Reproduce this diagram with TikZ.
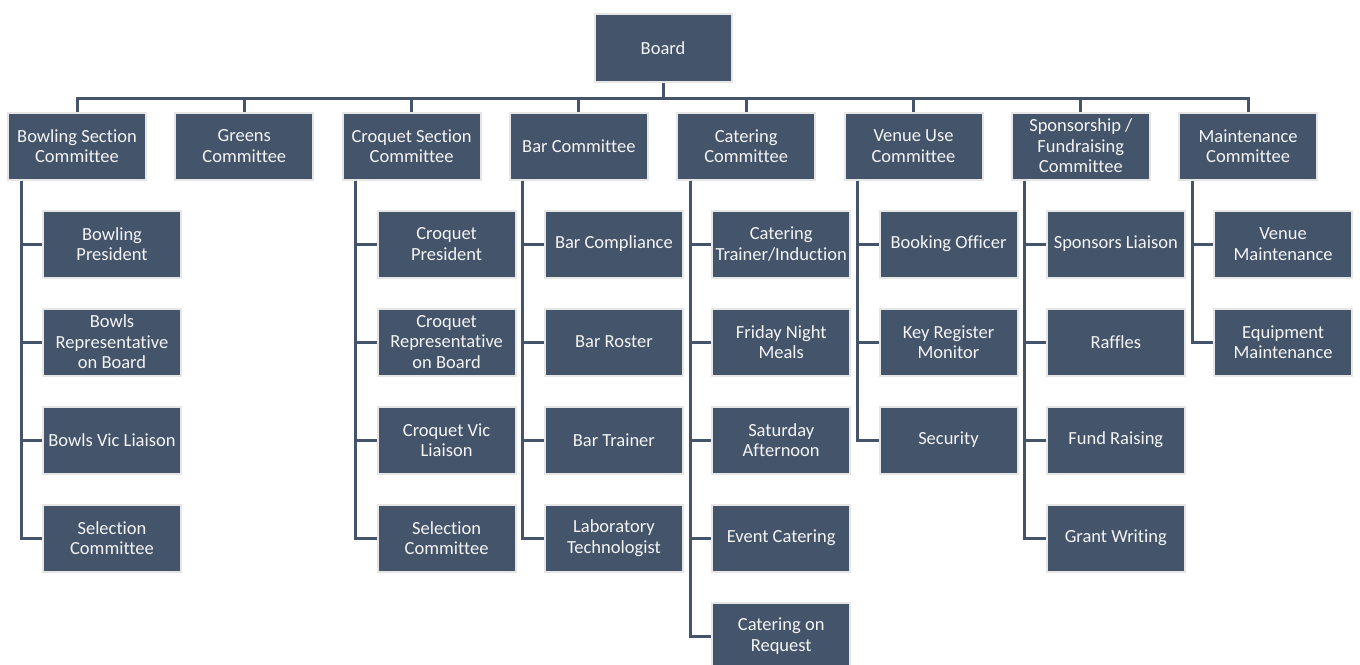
\documentclass[tikz,border=0pt]{standalone}
\usepackage{fontspec}
\setmainfont{Carlito}[Ligatures=NoCommon]
\usepackage{tikz}
\definecolor{boxblue}{HTML}{44546A}
\definecolor{boxedge}{HTML}{E7E6E6}
\definecolor{boxtext}{HTML}{F4F4F4}

\begin{document}
\begin{tikzpicture}[x=1pt, y=-1pt,
    unit/.style={draw=boxedge, line width=2pt, fill=boxblue, text=boxtext,
        minimum width=138pt, minimum height=67pt, inner sep=0pt, align=center,
        font=\fontsize{18.5}{20.5}\selectfont},
    conn/.style={draw=boxblue, line width=3pt}]
    \clip (0,0) rectangle (1360,664);

    % Boxes
    \node [unit, minimum width=137pt, minimum height=68pt] (board) at (663,48) {Board};

    \node [unit] (bowl) at (77,146) {Bowling Section\\Committee};
    \node [unit] (greens) at (244.3,146) {Greens\\Committee};
    \node [unit] (croq) at (411.6,146) {Croquet Section\\Committee};
    \node [unit] (bar) at (578.9,146) {Bar Committee};
    \node [unit] (cater) at (746.2,146) {Catering\\Committee};
    \node [unit] (venue) at (913.5,146) {Venue Use\\Committee};
    \node [unit] (spons) at (1080.8,146) {Sponsorship /\\Fundraising\\Committee};
    \node [unit] (maint) at (1248.1,146) {Maintenance\\Committee};

    \node [unit] (bowlpres) at (112,244) {Bowling\\President};
    \node [unit] (bowlrep) at (112,342) {Bowls\\Representative\\on Board};
    \node [unit] (bowlvic) at (112,440) {Bowls Vic Liaison};
    \node [unit] (bowlsel) at (112,538) {Selection\\Committee};

    \node [unit] (croqpres) at (446.6,244) {Croquet\\President};
    \node [unit] (croqrep) at (446.6,342) {Croquet\\Representative\\on Board};
    \node [unit] (croqvic) at (446.6,440) {Croquet Vic\\Liaison};
    \node [unit] (croqsel) at (446.6,538) {Selection\\Committee};

    \node [unit] (barcomp) at (613.9,244) {Bar Compliance};
    \node [unit] (barrost) at (613.9,342) {Bar Roster};
    \node [unit] (bartrain) at (613.9,440) {Bar Trainer};
    \node [unit] (barlab) at (613.9,538) {Laboratory\\Technologist};

    \node [unit] (catrain) at (781.2,244) {Catering\\Trainer/Induction};
    \node [unit] (catfri) at (781.2,342) {Friday Night\\Meals};
    \node [unit] (catsat) at (781.2,440) {Saturday\\Afternoon};
    \node [unit] (catevent) at (781.2,538) {Event Catering};
    \node [unit] (catreq) at (781.2,636) {Catering on\\Request};

    \node [unit] (booking) at (948.5,244) {Booking Officer};
    \node [unit] (keyreg) at (948.5,342) {Key Register\\Monitor};
    \node [unit] (security) at (948.5,440) {Security};

    \node [unit] (sponsl) at (1115.8,244) {Sponsors Liaison};
    \node [unit] (raffles) at (1115.8,342) {Raffles};
    \node [unit] (fundr) at (1115.8,440) {Fund Raising};
    \node [unit] (grant) at (1115.8,538) {Grant Writing};

    \node [unit] (venmaint) at (1283.1,244) {Venue\\Maintenance};
    \node [unit] (equmaint) at (1283.1,342) {Equipment\\Maintenance};

    % Lines from the board
    \draw [conn] (board.south) -- ++(0,15) -| (bowl.north);
    \draw [conn] (board.south) -- ++(0,15) -| (greens.north);
    \draw [conn] (board.south) -- ++(0,15) -| (croq.north);
    \draw [conn] (board.south) -- ++(0,15) -| (bar.north);
    \draw [conn] (board.south) -- ++(0,15) -| (cater.north);
    \draw [conn] (board.south) -- ++(0,15) -| (venue.north);
    \draw [conn] (board.south) -- ++(0,15) -| (spons.north);
    \draw [conn] (board.south) -- ++(0,15) -| (maint.north);

    % Lines to the sub-units
    \draw [conn] ([xshift=14pt]bowl.south west) |- (bowlpres.west);
    \draw [conn] ([xshift=14pt]bowl.south west) |- (bowlrep.west);
    \draw [conn] ([xshift=14pt]bowl.south west) |- (bowlvic.west);
    \draw [conn] ([xshift=14pt]bowl.south west) |- (bowlsel.west);

    \draw [conn] ([xshift=14pt]croq.south west) |- (croqpres.west);
    \draw [conn] ([xshift=14pt]croq.south west) |- (croqrep.west);
    \draw [conn] ([xshift=14pt]croq.south west) |- (croqvic.west);
    \draw [conn] ([xshift=14pt]croq.south west) |- (croqsel.west);

    \draw [conn] ([xshift=14pt]bar.south west) |- (barcomp.west);
    \draw [conn] ([xshift=14pt]bar.south west) |- (barrost.west);
    \draw [conn] ([xshift=14pt]bar.south west) |- (bartrain.west);
    \draw [conn] ([xshift=14pt]bar.south west) |- (barlab.west);

    \draw [conn] ([xshift=14pt]cater.south west) |- (catrain.west);
    \draw [conn] ([xshift=14pt]cater.south west) |- (catfri.west);
    \draw [conn] ([xshift=14pt]cater.south west) |- (catsat.west);
    \draw [conn] ([xshift=14pt]cater.south west) |- (catevent.west);
    \draw [conn] ([xshift=14pt]cater.south west) |- (catreq.west);

    \draw [conn] ([xshift=14pt]venue.south west) |- (booking.west);
    \draw [conn] ([xshift=14pt]venue.south west) |- (keyreg.west);
    \draw [conn] ([xshift=14pt]venue.south west) |- (security.west);

    \draw [conn] ([xshift=14pt]spons.south west) |- (sponsl.west);
    \draw [conn] ([xshift=14pt]spons.south west) |- (raffles.west);
    \draw [conn] ([xshift=14pt]spons.south west) |- (fundr.west);
    \draw [conn] ([xshift=14pt]spons.south west) |- (grant.west);

    \draw [conn] ([xshift=14pt]maint.south west) |- (venmaint.west);
    \draw [conn] ([xshift=14pt]maint.south west) |- (equmaint.west);
\end{tikzpicture}
\end{document}
